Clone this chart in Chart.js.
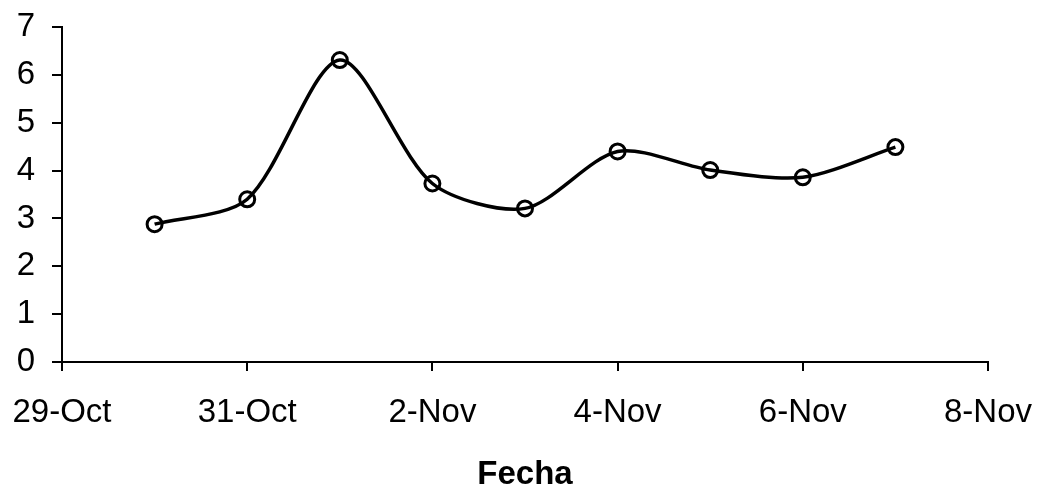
<!DOCTYPE html>
<html>
<head>
<meta charset="utf-8">
<script src="https://cdn.jsdelivr.net/npm/chart.js@4/dist/chart.umd.min.js"></script>
<style>
html,body{margin:0;padding:0;background:#fff;}
#wrap{width:1040px;height:492px;position:relative;}
</style>
</head>
<body>
<div id="wrap"><canvas id="c" width="1040" height="492"></canvas></div>
<script>
// Days counted from 29-Oct (day 0)
const dayOffsets = [1, 2, 3, 4, 5, 6, 7, 8, 9];
const dateLabels = ['30-Oct','31-Oct','1-Nov','2-Nov','3-Nov','4-Nov','5-Nov','6-Nov','7-Nov'];
const values = [2.88, 3.40, 6.31, 3.73, 3.21, 4.40, 4.01, 3.86, 4.49];
const xTickLabels = ['29-Oct','30-Oct','31-Oct','1-Nov','2-Nov','3-Nov','4-Nov','5-Nov','6-Nov','7-Nov','8-Nov'];
const yTicks = [0,1,2,3,4,5,6,7];
const xTitle = 'Fecha';

const points = dayOffsets.map((d, i) => ({x: d, y: values[i]}));
const FONT = 'Liberation Sans, Arial, sans-serif';

new Chart(document.getElementById('c'), {
  type: 'line',
  data: {
    datasets: [{
      data: points,
      borderColor: '#000',
      borderWidth: 3.5,
      tension: 0.28,
      pointRadius: 7.5,
      pointBorderWidth: 3,
      pointBorderColor: '#000',
      pointBackgroundColor: 'rgba(255,255,255,0)',
      fill: false
    }]
  },
  options: {
    responsive: false,
    animation: false,
    layout: {autoPadding: false, padding: {top: 27, right: 52, left: 0, bottom: 0}},
    plugins: {legend: {display: false}, tooltip: {enabled: false}},
    scales: {
      x: {
        type: 'linear',
        min: 0, max: 10,
        afterFit: s => { s.height = 130; s.paddingLeft = 0; s.paddingRight = 0; },
        border: {display: true, color: '#000', width: 2},
        grid: {display: true, drawOnChartArea: false, drawTicks: true, tickLength: 9, color: '#000', lineWidth: 2},
        ticks: {
          stepSize: 2,
          autoSkip: false,
          maxRotation: 0,
          padding: 22,
          color: '#000',
          font: {family: FONT, size: 33},
          callback: v => xTickLabels[v]
        },
        title: {
          display: true,
          text: xTitle,
          color: '#000',
          font: {family: FONT, size: 33, weight: 'bold'},
          padding: {top: 0, bottom: -3}
        }
      },
      y: {
        min: 0, max: 7,
        afterFit: s => { s.width = 62; s.paddingTop = 0; s.paddingBottom = 0; },
        afterBuildTicks: s => { s.ticks = yTicks.map(v => ({value: v})); },
        border: {display: true, color: '#000', width: 2},
        grid: {display: true, drawOnChartArea: false, drawTicks: true, tickLength: 10, color: '#000', lineWidth: 2},
        ticks: {
          padding: 17,
          color: '#000',
          font: {family: FONT, size: 33}
        }
      }
    }
  }
});
</script>
</body>
</html>
